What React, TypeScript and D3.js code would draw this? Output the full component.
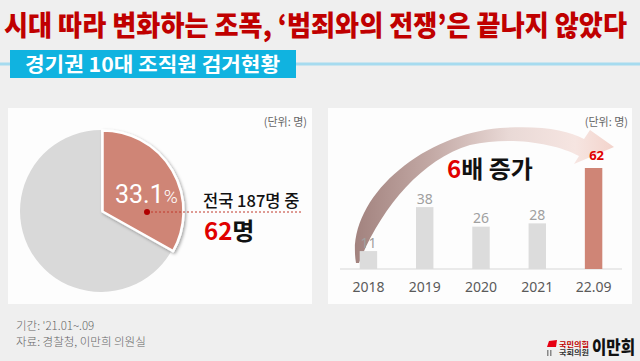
import { arc, pie, scaleBand, scaleLinear } from "d3";

const title = "시대 따라 변화하는 조폭, ‘범죄와의 전쟁’은 끝나지 않았다";
const subtitle = "경기권 10대 조직원 검거현황";
const unitLabel = "(단위: 명)";

// pie: 경기권 62 of 187 nationwide
const pieLabels = ["경기권", "기타"];
const pieValues = [62, 125];
const pieShare = "33.1";

// bars
const years = ["2018", "2019", "2020", "2021", "22.09"];
const counts = [11, 38, 26, 28, 62];

const footLines = ["기간: '21.01~.09", "자료: 경찰청, 이만희 의원실"];

const KR = "'Noto Sans CJK KR', 'Noto Sans', sans-serif";

export default function App() {
  const width = 640;
  const height = 361;

  // pie
  const cx = 101;
  const cy = 211;
  const r = 81;
  const slices = pie<number>().sort(null)(pieValues);
  const arcGen = arc<any>().innerRadius(0).outerRadius(r);

  // bars
  const x = scaleBand<string>().domain(years).range([340, 622]).paddingInner(0.69).paddingOuter(0.35);
  const y = scaleLinear().domain([0, 62]).range([269, 168]);
  const last = years.length - 1;

  return (
    <div style={{ position: "fixed", left: 0, top: 0 }}>
      <svg width={width} height={height} style={{ display: "block" }}>
        <defs>
          <filter id="sh" x="-20%" y="-20%" width="140%" height="140%">
            <feDropShadow dx="1.5" dy="1.5" stdDeviation="1.5" floodOpacity="0.35" />
          </filter>
          <linearGradient id="arrowGrad" gradientUnits="userSpaceOnUse" x1="350" y1="0" x2="615" y2="0">
            <stop offset="0" stopColor="#a0807c" />
            <stop offset="0.3" stopColor="#c2a8a4" />
            <stop offset="0.6" stopColor="#e9d9d6" />
            <stop offset="0.85" stopColor="#f6e5e1" />
            <stop offset="1" stopColor="#f3d3cb" />
          </linearGradient>
        </defs>

        <rect width={width} height={height} fill="#efefef" />

        {/* title: squeezed a bit horizontally like the condensed original */}
        <text
          transform="translate(4,36) scale(1,1.14)"
          fontFamily={KR}
          fontWeight={900}
          fontSize={24.6}
          fill="#c00000"
          textLength={623}
          lengthAdjust="spacingAndGlyphs"
        >
          {title}
        </text>

        {/* subtitle band */}
        <line x1={0} x2={width} y1={64} y2={64} stroke="#a6dbef" strokeWidth={3} />
        <rect x={10} y={50} width={286} height={28} fill="#10b3e0" />
        <text x={25} y={72} fontFamily={KR} fontWeight={700} fontSize={20} fill="#fff" textLength={255} lengthAdjust="spacingAndGlyphs">
          {subtitle}
        </text>

        {/* panels */}
        <rect x={8} y={108} width={304} height={196} fill="#fdfdfd" />
        <rect x={328} y={108} width={304} height={196} fill="#fdfdfd" />
        <text x={307} y={126} textAnchor="end" fontFamily={KR} fontSize={11} fill="#666">
          {unitLabel}
        </text>
        <text x={628} y={126} textAnchor="end" fontFamily={KR} fontSize={11} fill="#666">
          {unitLabel}
        </text>

        {/* pie */}
        <g transform={`translate(${cx},${cy})`}>
          <path d={arcGen(slices[1]) ?? ""} fill="#d9d9d9">
            <title>{pieLabels[1]}</title>
          </path>
          <path
            d={arcGen(slices[0]) ?? ""}
            transform="translate(1.5,0.5)"
            fill="#cf8576"
            stroke="#fff"
            strokeWidth={2.5}
            strokeLinejoin="round"
            filter="url(#sh)"
          >
            <title>{pieLabels[0]}</title>
          </path>
        </g>
        <text x={115} y={203} fill="#fff" fontFamily="Roboto, 'Noto Sans', sans-serif">
          <tspan fontSize={25}>{pieShare}</tspan>
          <tspan fontSize={19} fontWeight={300}>%</tspan>
        </text>
        <line x1={147} x2={303} y1={212} y2={212} stroke="#c0392b" strokeWidth={1} strokeDasharray="2,2" />
        <circle cx={147} cy={212} r={3} fill="#b00000" />
        <text x={203} y={207} fontFamily={KR} fontWeight={500} fontSize={16.5} fill="#111">
          전국 {pieValues[0] + pieValues[1]}명 중
        </text>
        <text x={204} y={240} fontFamily={KR} fontWeight={700} fontSize={24} fill="#111">
          <tspan fill="#e00000">{pieValues[0]}</tspan>명
        </text>

        {/* curved arrow */}
        <path
          d="M356,263 C345,200 420,135 500,128 C540,125 568,130 584,139 L590,130 L614,147 L574,164 L579,156 C555,143 510,136 470,145 C420,160 380,210 359,263 Z"
          fill="url(#arrowGrad)"
        />

        {/* bars */}
        <line x1={340} x2={622} y1={269} y2={269} stroke="#e3e3e3" strokeWidth={1.5} />
        {years.map((yr, i) => (
          <g key={yr}>
            <rect
              x={x(yr)}
              y={y(counts[i])}
              width={x.bandwidth()}
              height={269 - y(counts[i])}
              fill={i === last ? "#cf8576" : "#dcdcdc"}
            />
            <text
              x={(x(yr) ?? 0) + x.bandwidth() / 2 + (i === last ? 3 : 0)}
              y={y(counts[i]) - (i === last ? 8 : 3.5)}
              textAnchor="middle"
              fontFamily="'Noto Sans', sans-serif"
              fontSize={i === last ? 13 : 14}
              fontWeight={i === last ? 700 : 400}
              fill={i === last ? "#e00000" : "#a0a0a0"}
            >
              {counts[i]}
            </text>
            <text
              x={(x(yr) ?? 0) + x.bandwidth() / 2}
              y={292}
              textAnchor="middle"
              fontFamily="'Noto Sans', sans-serif"
              fontSize={14}
              fill="#5a5a5a"
            >
              {yr}
            </text>
          </g>
        ))}
        <text x={447} y={178} fontFamily={KR} fontWeight={700} fontSize={24} fill="#111">
          <tspan fill="#e00000">6</tspan>배 증가
        </text>

        {/* footer */}
        {footLines.map((t, i) => (
          <text key={t} x={16} y={330 + i * 16} fontFamily={KR} fontWeight={300} fontSize={11.5} fill="#666">
            {t}
          </text>
        ))}

        {/* logo */}
        <path d="M549,341 L557,340 L556,347 L547,347 Z" fill="#e60012" />
        <rect x={547} y={350} width={1.5} height={6} fill="#888" />
        <rect x={550} y={350} width={1.5} height={6} fill="#888" />
        <text x={559} y={346.5} fontFamily={KR} fontWeight={700} fontSize={6.5} fill="#c00000" textLength={30} lengthAdjust="spacingAndGlyphs">
          국민의힘
        </text>
        <text x={559} y={355} fontFamily={KR} fontWeight={700} fontSize={6.5} fill="#333" textLength={30} lengthAdjust="spacingAndGlyphs">
          국회의원
        </text>
        <text
          transform="translate(592,354) scale(1,1.2)"
          fontFamily={KR}
          fontWeight={900}
          fontSize={15}
          fill="#111"
          textLength={43}
          lengthAdjust="spacingAndGlyphs"
        >
          이만희
        </text>
      </svg>
    </div>
  );
}
